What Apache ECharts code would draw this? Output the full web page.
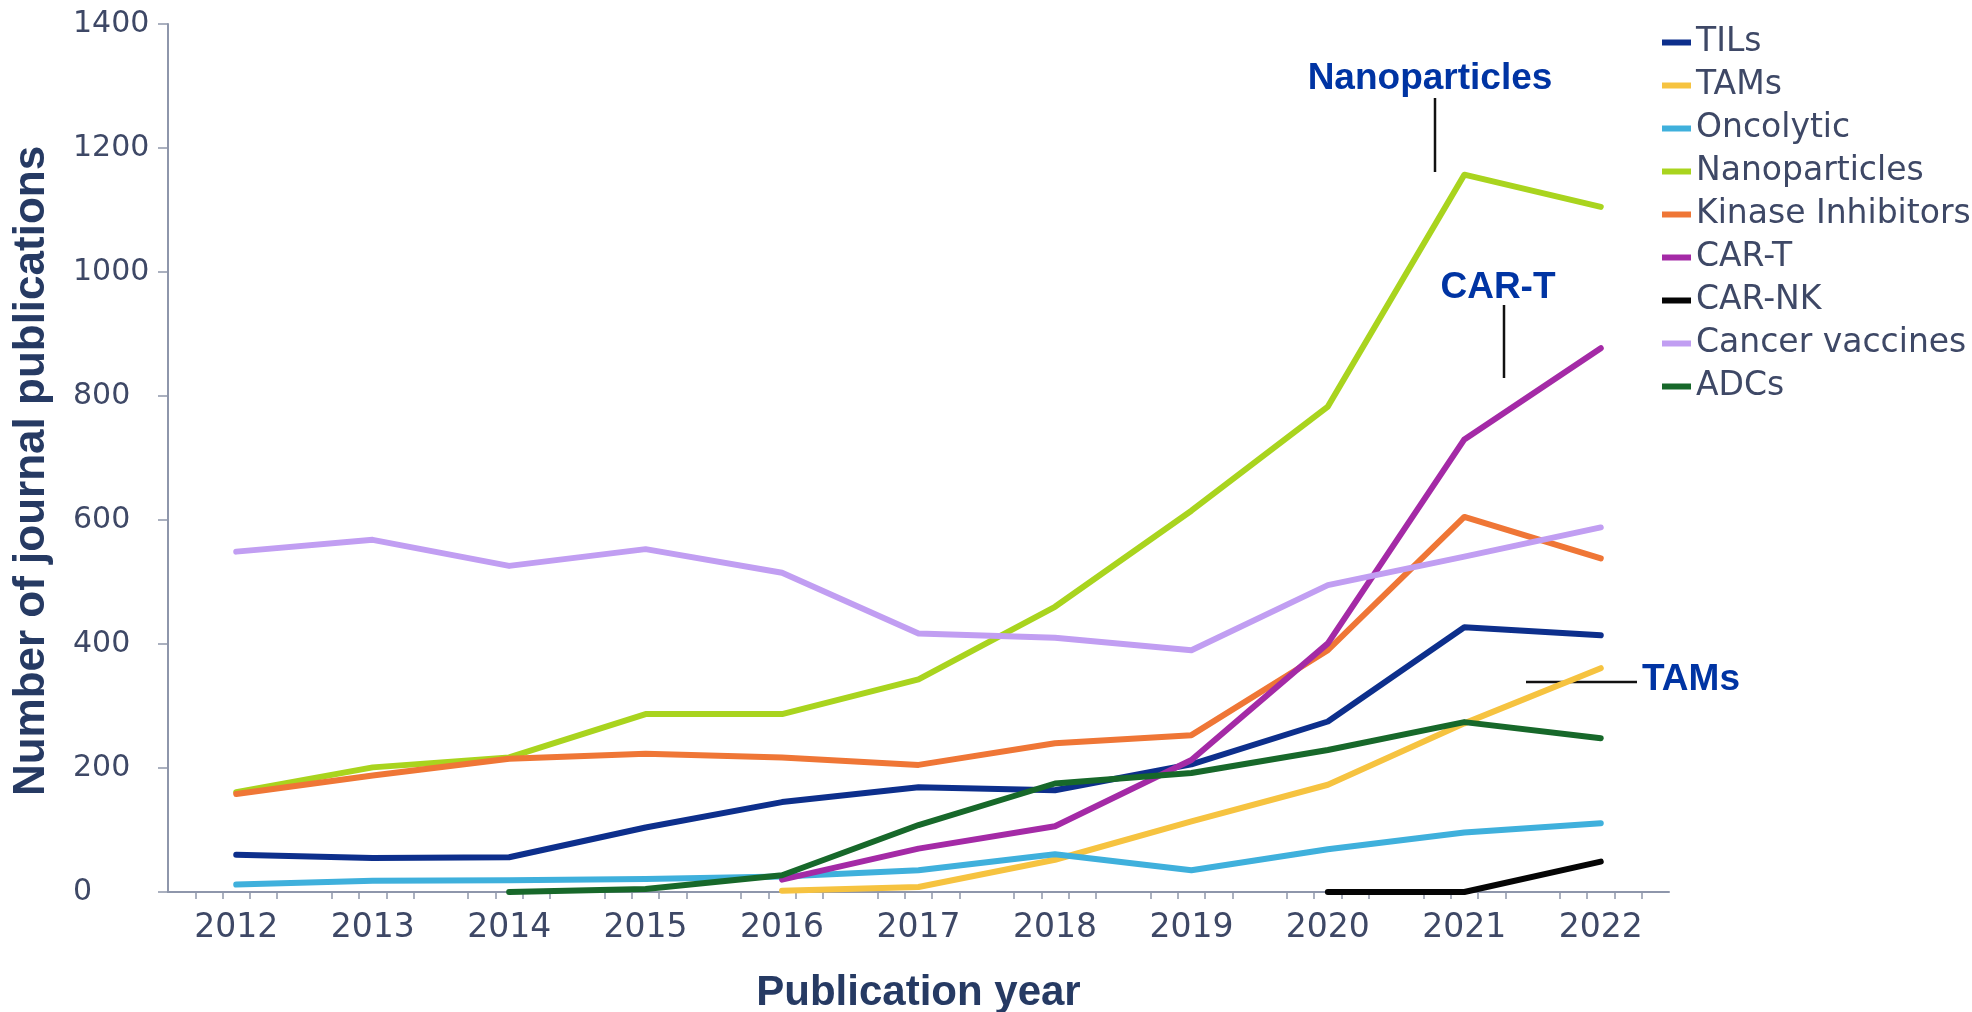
<!DOCTYPE html>
<html>
<head>
<meta charset="utf-8">
<script src="https://cdn.jsdelivr.net/npm/echarts@6/dist/echarts.min.js"></script>
<style>
html,body{margin:0;padding:0;background:#fff;}
#chart{width:1972px;height:1012px;}
</style>
</head>
<body>
<div id="chart"></div>
<script>
// ---- data ----
const years = [2012, 2013, 2014, 2015, 2016, 2017, 2018, 2019, 2020, 2021, 2022];
const yTicks = [0, 200, 400, 600, 800, 1000, 1200, 1400];

const seriesNames = ['TILs', 'TAMs', 'Oncolytic', 'Nanoparticles', 'Kinase Inhibitors', 'CAR-T', 'CAR-NK', 'Cancer vaccines', 'ADCs'];

const tils          = [60, 55, 56, 104, 145, 169, 164, 206, 275, 427, 414];
const tams          = [null, null, null, null, 2, 8, 52, 114, 173, 272, 361];
const oncolytic     = [12, 18, 19, 21, 25, 35, 61, 35, 69, 96, 111];
const nanoparticles = [161, 201, 217, 287, 287, 343, 460, 615, 783, 1157, 1105];
const kinase        = [158, 188, 215, 223, 217, 205, 240, 253, 390, 605, 538];
const cart          = [null, null, null, null, 20, 70, 106, 213, 401, 730, 877];
const carnk         = [null, null, null, null, null, null, null, null, 0, 0, 49];
const vaccines      = [549, 568, 526, 553, 515, 417, 410, 390, 495, 541, 588];
const adcs          = [null, null, 0, 5, 27, 108, 175, 192, 229, 274, 248];

const seriesValues = [tils, tams, oncolytic, nanoparticles, kinase, cart, carnk, vaccines, adcs];
const seriesColors = ['#0d2f8c', '#f6c340', '#3fb0dc', '#a9d41e', '#ef7636', '#a42aa6', '#050505', '#c19ef2', '#17682a'];

// ---- annotations ----
const annotations = [
  { text: 'Nanoparticles', x: 1430, y: 79, align: 'center', line: [1435, 98, 1435, 172] },
  { text: 'CAR-T', x: 1498, y: 288, align: 'center', line: [1504, 305, 1504, 378] },
  { text: 'TAMs', x: 1642, y: 680, align: 'left', line: [1526, 682, 1637, 682] }
];

// minor tick positions on the x axis (5 per year band, none on band edges)
const xTickValues = [];
for (let k = 1; k < years.length * 5; k++) {
  if (k % 5 !== 0) xTickValues.push(Math.round((years[0] - 0.5 + k * 0.2) * 1000) / 1000);
}

const axisColor = '#8e96ab';
const labelColor = '#3e4866';
const titleColor = '#263a63';

const chart = echarts.init(document.getElementById('chart'), null, { renderer: 'canvas' });

const series = seriesNames.map((name, i) => ({
  name: name,
  type: 'line',
  showSymbol: false,
  symbol: 'none',
  lineStyle: { width: 6, color: seriesColors[i], join: 'round', cap: 'round' },
  itemStyle: { color: seriesColors[i] },
  emphasis: { disabled: true },
  data: years.map((y, j) => [y, seriesValues[i][j]]).filter(d => d[1] !== null)
}));

const graphic = [];
annotations.forEach(a => {
  graphic.push({
    type: 'text',
    style: {
      text: a.text, x: a.x, y: a.y,
      align: a.align, verticalAlign: 'middle',
      fill: '#0034a3',
      font: 'bold 37px "Liberation Sans", Arial, sans-serif'
    }
  });
  graphic.push({
    type: 'line',
    shape: { x1: a.line[0], y1: a.line[1], x2: a.line[2], y2: a.line[3] },
    style: { stroke: '#111', lineWidth: 2.5 }
  });
});

chart.setOption({
  animation: false,
  backgroundColor: '#ffffff',
  grid: { left: 168, right: 303, top: 24, bottom: 120, containLabel: false, outerBoundsMode: 'none' },
  legend: {
    orient: 'vertical',
    left: 1657,
    top: 21,
    icon: 'rect',
    itemWidth: 29,
    itemHeight: 6,
    itemGap: 10,
    selectedMode: false,
    textStyle: { fontFamily: '"DejaVu Sans", sans-serif', fontSize: 33, lineHeight: 32, color: labelColor },
    data: seriesNames
  },
  xAxis: {
    type: 'value',
    min: years[0] - 0.5,
    max: years[years.length - 1] + 0.5,
    name: 'Publication year',
    nameLocation: 'middle',
    nameGap: 80,
    nameTextStyle: { fontFamily: '"Liberation Sans", Arial, sans-serif', fontWeight: 'bold', fontSize: 42, color: titleColor },
    axisLine: { show: true, lineStyle: { color: axisColor, width: 2 } },
    axisTick: { show: true, length: 7, lineStyle: { color: axisColor, width: 1.5 }, customValues: xTickValues },
    axisLabel: {
      customValues: years,
      formatter: v => String(Math.round(v)),
      fontFamily: '"DejaVu Sans", sans-serif',
      fontSize: 33,
      color: labelColor,
      margin: 20
    },
    splitLine: { show: false },
    minorTick: { show: false }
  },
  yAxis: {
    type: 'value',
    min: yTicks[0],
    max: yTicks[yTicks.length - 1],
    interval: 200,
    name: 'Number of journal publications',
    nameLocation: 'middle',
    nameGap: 114,
    nameTextStyle: { fontFamily: '"Liberation Sans", Arial, sans-serif', fontWeight: 'bold', fontSize: 44, color: titleColor, padding: [0, 26, 0, 0] },
    axisLine: { show: true, lineStyle: { color: axisColor, width: 2 } },
    axisTick: { show: true, length: 10, lineStyle: { color: axisColor, width: 1.5 } },
    axisLabel: {
      align: 'left',
      margin: 95,
      formatter: v => String(v),
      fontFamily: '"DejaVu Sans", sans-serif',
      fontSize: 30,
      color: labelColor
    },
    splitLine: { show: false }
  },
  graphic: graphic,
  series: series
});
</script>
</body>
</html>
